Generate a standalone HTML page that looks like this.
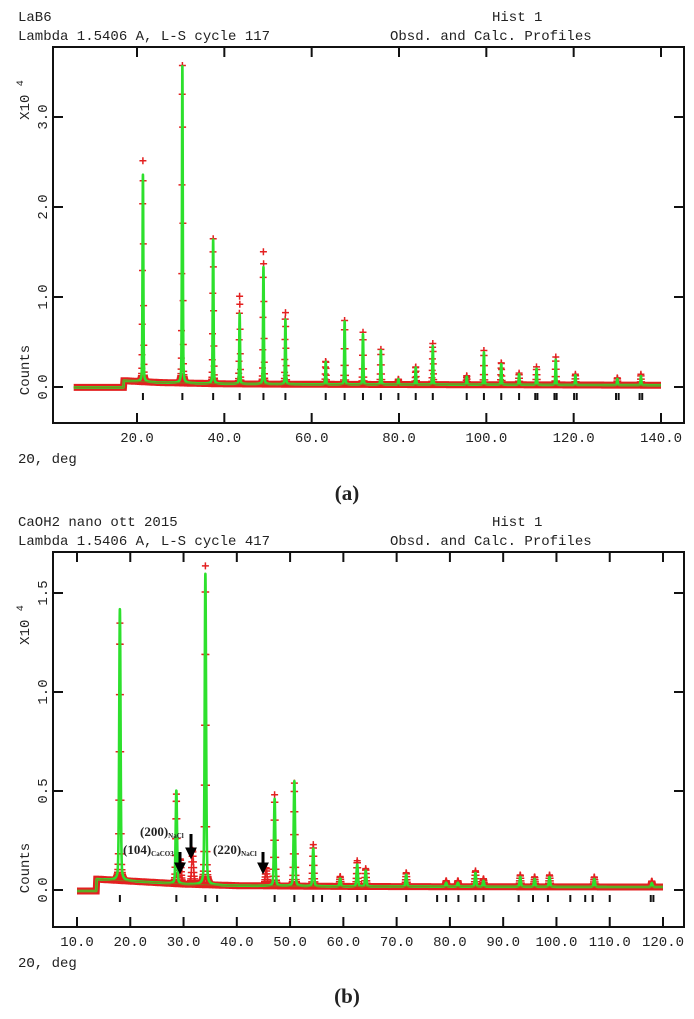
<!DOCTYPE html>
<html><head><meta charset="utf-8"><style>
html,body{margin:0;padding:0;background:#fff;}
svg{display:block;}
text{font-family:"Liberation Mono",monospace;fill:#222;}
</style></head><body>
<svg id="fig" width="694" height="1019" viewBox="0 0 694 1019" xmlns="http://www.w3.org/2000/svg">
<g id="chartA"></g>
<g id="chartB"></g>
<text x="347" y="500" text-anchor="middle" style="font-family:'Liberation Serif',serif;font-size:21px;font-weight:bold">(a)</text>
<text x="347" y="1003" text-anchor="middle" style="font-family:'Liberation Serif',serif;font-size:21px;font-weight:bold">(b)</text>
</svg>
<script>
// ---- Chart A data (LaB6) ----
const aPeakPos = [21.36,30.39,37.44,43.51,48.96,53.99,63.22,67.55,71.75,75.85,79.86,83.83,87.74,95.51,99.45,103.42,107.5,111.5,115.9,120.4,130.0,135.4];
const aCalcH   = [2.30,3.52,1.60,0.78,1.30,0.72,0.25,0.70,0.56,0.38,0.06,0.19,0.43,0.09,0.36,0.23,0.12,0.18,0.28,0.11,0.07,0.10];
const aObsH    = [2.47,3.55,1.62,0.98,1.48,0.80,0.26,0.71,0.58,0.39,0.06,0.20,0.46,0.10,0.38,0.25,0.13,0.20,0.31,0.12,0.08,0.12];
const aReflections = [21.36,30.39,37.44,43.51,48.96,53.99,63.22,67.55,71.75,75.85,79.86,83.83,87.74,95.51,99.45,103.42,107.5,111.2,111.7,115.6,116.1,120.1,120.7,129.7,130.3,135.1,135.7];
const aBgX = [5.5,16.9,17.0,25,40,60,100,140];
const aBgY = [-0.005,-0.005,0.07,0.05,0.035,0.03,0.025,0.02];
const aXTicks = [20,40,60,80,100,120,140];
const aXTickLabels = ["20.0","40.0","60.0","80.0","100.0","120.0","140.0"];
const aYTicks = [0,1,2,3];
const aYTickLabels = ["0.0","1.0","2.0","3.0"];

// ---- Chart B data (CaOH2) ----
const bPeakPos = [18.05,28.65,34.1,47.1,50.8,54.35,59.4,62.6,64.2,71.8,79.3,81.5,84.8,86.3,93.2,95.9,98.7,107.1,117.9];
const bCalcH   = [1.37,0.47,1.57,0.44,0.53,0.19,0.04,0.11,0.08,0.06,0.02,0.02,0.07,0.03,0.05,0.04,0.05,0.04,0.02];
const bObsH    = [1.30,0.45,1.61,0.46,0.52,0.21,0.05,0.13,0.09,0.07,0.03,0.03,0.08,0.04,0.06,0.05,0.06,0.05,0.03];
const bImpPos  = [29.4,31.7,45.5];
const bImpH    = [0.12,0.17,0.09];
const bReflections = [18.05,28.65,34.1,36.3,47.1,50.8,54.35,56.0,59.4,62.6,64.2,71.8,77.6,79.3,81.6,84.8,86.3,92.9,95.6,98.4,102.6,105.4,106.8,110.0,117.7,118.2];
const bBgX = [10,13.6,13.7,20,30,40,60,90,120];
const bBgY = [-0.005,-0.005,0.055,0.045,0.03,0.022,0.018,0.016,0.015];
const bXTicks = [10,20,30,40,50,60,70,80,90,100,110,120];
const bXTickLabels = ["10.0","20.0","30.0","40.0","50.0","60.0","70.0","80.0","90.0","100.0","110.0","120.0"];
const bYTicks = [0,0.5,1.0,1.5];
const bYTickLabels = ["0.0","0.5","1.0","1.5"];

const NS="http://www.w3.org/2000/svg";
function mk(parent,tag,attrs,txt){const e=document.createElementNS(NS,tag);for(const k in attrs)e.setAttribute(k,attrs[k]);if(txt!==undefined)e.textContent=txt;parent.appendChild(e);return e;}
function interp(xs,ys,x){if(x<=xs[0])return ys[0];for(let i=1;i<xs.length;i++){if(x<=xs[i]){const t=(x-xs[i-1])/(xs[i]-xs[i-1]);return ys[i-1]+t*(ys[i]-ys[i-1]);}}return ys[ys.length-1];}
function shape(d,w){const g=Math.exp(-4*Math.LN2*d*d/(w*w));const l=1/(1+4*d*d/(w*w));return 0.7*g+0.3*l;}

function drawChart(g,cfg){
  const sx=v=>cfg.x0+(v-cfg.v0)*cfg.kx;
  const sy=v=>cfg.y0-v*cfg.ky;
  const L=cfg.left,R=cfg.right,T=cfg.top,B=cfg.bottom;
  const t1=mk(g,'text',{x:18,y:T-26,'font-size':'14px'},cfg.title1);
  
  
  const t2=mk(g,'text',{x:18,y:T-7,'font-size':'14px'},cfg.title2);
  
  
  const t3=mk(g,'text',{x:492,y:T-26,'font-size':'14px'},'Hist  1');
  
  
  const t4=mk(g,'text',{x:390,y:T-7,'font-size':'14px'},'Obsd. and Calc. Profiles');
  
  
  const fr=mk(g,'rect',{x:L,y:T,width:R-L,height:B-T,fill:'none',stroke:'#111','stroke-width':2});
  
  
  cfg.xTicks.forEach((v,i)=>{
    const x=sx(v);
    const tk=mk(g,'path',{d:`M${x},${T}v10M${x},${B}v-10`,stroke:'#111','stroke-width':2});
    
    
    const lb=mk(g,'text',{x:x,y:B+19,'text-anchor':'middle','font-size':'14px'},cfg.xTickLabels[i]);
    
    
  });
  cfg.yTicks.forEach((v,i)=>{
    const y=sy(v);
    const tk=mk(g,'path',{d:`M${L},${y}h10M${R},${y}h-10`,stroke:'#111','stroke-width':2});
    
    
    const lb=mk(g,'text',{x:0,y:0,'text-anchor':'middle','font-size':'14px',transform:`translate(47,${y}) rotate(-90)`},cfg.yTickLabels[i]);
    
    
  });
  const ya=mk(g,'text',{x:0,y:0,'text-anchor':'middle','font-size':'14px',transform:`translate(29,${cfg.scaleLabelY}) rotate(-90)`},'X10 ');
  
  
  mk(ya,'tspan',{dy:-6,'font-size':'10px'},'4');
  const yc=mk(g,'text',{x:0,y:0,'text-anchor':'middle','font-size':'14px',transform:`translate(29,${cfg.countsY}) rotate(-90)`},'Counts');
  
  
  const xt=mk(g,'text',{x:18,y:B+40,'font-size':'14px'},'2\u0398, deg');
  
  
  function bg(x){return interp(cfg.bgX,cfg.bgY,x);}
  function calc(x){let s=bg(x);cfg.pos.forEach((p,i)=>{const d=x-p;if(Math.abs(d)<3)s+=cfg.calcH[i]*shape(d,cfg.w);});return s;}
  function peaksObs(x){let s=0;cfg.pos.forEach((p,i)=>{const d=x-p;if(Math.abs(d)<3)s+=cfg.obsH[i]*shape(d,cfg.w);});(cfg.impPos||[]).forEach((p,i)=>{const d=x-p;if(Math.abs(d)<3)s+=cfg.impH[i]*shape(d,cfg.w*1.3);});return s;}
  const xs0=cfg.bgX[0],xs1=cfg.bgX[cfg.bgX.length-1];
  let band='';
  for(let x=xs0;x<=xs1+1e-9;x+=0.02){band+=(band?'L':'M')+sx(x).toFixed(1)+','+sy(bg(x)).toFixed(1);}
  const ob=mk(g,'path',{d:band,fill:'none',stroke:'#e32020','stroke-width':7});
  
  
  let cr='';
  for(let x=xs0;x<=xs1;x+=cfg.crossStep){
    const p=peaksObs(x);
    if(p>0.012){const X=sx(x),Y=sy(bg(x)+p);cr+=`M${(X-3.5).toFixed(1)},${Y.toFixed(1)}h7M${X.toFixed(1)},${(Y-3.5).toFixed(1)}v7`;}
  }
  const oc=mk(g,'path',{d:cr,fill:'none',stroke:'#e32020','stroke-width':1.5});
  
  
  let cl='';
  for(let x=xs0;x<=xs1+1e-9;x+=0.01){cl+=(cl?'L':'M')+sx(x).toFixed(2)+','+sy(calc(x)).toFixed(1);}
  const cp=mk(g,'path',{d:cl,fill:'none',stroke:'#2de02d','stroke-width':2.6,'stroke-linejoin':'round'});
  
  
  let bl='';
  for(let x=xs0;x<=xs1+1e-9;x+=0.05){bl+=(bl?'L':'M')+sx(x).toFixed(1)+','+sy(bg(x)).toFixed(1);}
  const bb=mk(g,'path',{d:bl,fill:'none',stroke:'#8a7a1a','stroke-width':1.2,opacity:0.8});
  
  
  cfg.refl.forEach(v=>{
    const x=sx(v);
    const r=mk(g,'line',{x1:x,x2:x,y1:cfg.reflY-3,y2:cfg.reflY+4,stroke:'#111','stroke-width':2});
    
    
  });
}

const gA=document.getElementById('chartA');
drawChart(gA,{title1:'LaB6',title2:'Lambda 1.5406 A, L-S cycle  117',left:53,right:684,top:47,bottom:423,
  x0:137,v0:20,kx:(661-137)/120,y0:387,ky:90,
  xTicks:aXTicks,xTickLabels:aXTickLabels,yTicks:aYTicks,yTickLabels:aYTickLabels,
  scaleLabelY:100,countsY:370,pos:aPeakPos,calcH:aCalcH,obsH:aObsH,bgX:aBgX,bgY:aBgY,w:0.22,crossStep:0.05,
  refl:aReflections,reflY:396});
const gB=document.getElementById('chartB');
drawChart(gB,{title1:'CaOH2 nano ott 2015',title2:'Lambda 1.5406 A, L-S cycle  417',left:53,right:684,top:552,bottom:927,
  x0:77,v0:10,kx:(663-77)/110,y0:890,ky:198,
  xTicks:bXTicks,xTickLabels:bXTickLabels,yTicks:bYTicks,yTickLabels:bYTickLabels,
  scaleLabelY:625,countsY:868,pos:bPeakPos,calcH:bCalcH,obsH:bObsH,impPos:bImpPos,impH:bImpH,bgX:bBgX,bgY:bBgY,w:0.3,crossStep:0.05,
  refl:bReflections,reflY:898});

const ann=[["(200)","NaCl",140,832],["(104)","CaCO3",123,850],["(220)","NaCl",213,850]];
ann.forEach(a=>{
  const t=mk(gB,'text',{x:a[2],y:a[3]+4,style:"font-family:'Liberation Serif',serif;font-size:13px;font-weight:bold"},a[0]);
  
  
  mk(t,'tspan',{'font-size':'7px',dy:2},a[1]);
});
[[180,852,871],[191,834,856],[263,852,871]].forEach(a=>{
  const ar=mk(gB,'path',{d:`M${a[0]},${a[1]}V${a[2]-6}M${a[0]-3.5},${a[2]-7}L${a[0]},${a[2]}L${a[0]+3.5},${a[2]-7}Z`,stroke:'#000','stroke-width':3,fill:'#000'});
  
  
});
</script>
</body></html>
